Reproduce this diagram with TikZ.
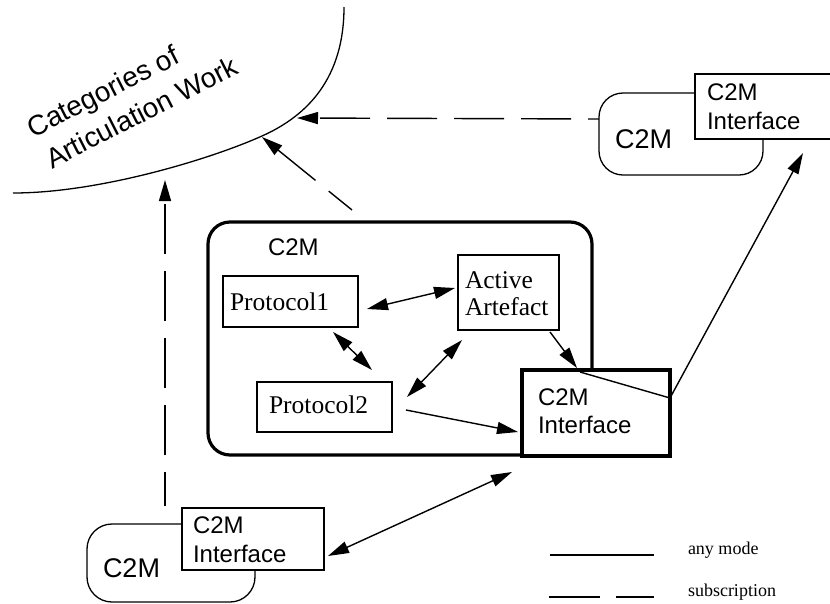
\documentclass[tikz,border=0pt]{standalone}
\usepackage{fontspec}
\setmainfont{Liberation Serif}
\newfontfamily\hv{Liberation Sans}
\usetikzlibrary{arrows.meta,calc}

\begin{document}
\begin{tikzpicture}[x=1pt,y=-1pt,
  every node/.style={inner sep=0pt, outer sep=0pt},
  thinbox/.style={draw, line width=1.3pt, fill=white, anchor=north west},
  thickbox/.style={draw, line width=3.2pt, fill=white, anchor=north west},
  module/.style={draw, line width=1.3pt, rounded corners=#1, anchor=north west},
  lbl/.style={anchor=base west, font=\hv\fontsize{24}{28}\selectfont},
  biglbl/.style={anchor=base west, font=\hv\fontsize{27}{32}\selectfont},
  catlbl/.style={anchor=base west, rotate=27, font=\hv\fontsize{28}{32}\selectfont},
  serif/.style={anchor=base west, font=\fontsize{25.5}{27}\selectfont},
  legendtxt/.style={anchor=base west, font=\fontsize{18}{20}\selectfont},
  headtip/.tip={Triangle[length=21pt,width=12pt]},
  conn/.style={line width=1.4pt},
  arr/.style={conn,-headtip},
  dbl/.style={conn,headtip-headtip},
  sub/.style={conn,-headtip,dash pattern=on 50pt off 17pt,dash phase=#1},
]
\useasboundingbox (0,0) rectangle (830,603);

% the categories of articulation work
\draw[line width=1.3pt] (344,7) .. controls (344,85) and (300,119) .. (262,136)
      .. controls (212,158.5) and (100,193) .. (13,193);
\coordinate (catV) at (165,180);
\coordinate (catD) at (262,137);
\coordinate (catH) at (297,118);
\node[catlbl] (cat1) at (33,138) {Categories of};
\node[catlbl] (cat2) at (52,169) {Articulation Work};

% central C2M with its components
\node[module=22pt, line width=3.2pt, minimum width=384pt, minimum height=233pt] (main) at (208,222) {};
\node[thickbox, minimum width=148pt, minimum height=86pt] (int) at (522,370) {};
\node[thinbox, minimum width=135pt, minimum height=51pt] (p1) at (223,276) {};
\node[thinbox, minimum width=101pt, minimum height=75pt] (aa) at (458,255) {};
\node[thinbox, minimum width=135pt, minimum height=50pt] (p2) at (257,382) {};
\node[lbl] (mainlbl) at (268,255) {C2M};
\node[lbl] (intlbl1) at (538,405) {C2M};
\node[lbl] (intlbl2) at (538,433) {Interface};
\node[serif] (p1lbl) at (230,310) {Protocol1};
\node[serif] (aalbl1) at (465,288) {Active};
\node[serif] (aalbl2) at (465,315) {Artefact};
\node[serif] (p2lbl) at (269,413) {Protocol2};

% remote C2M, top right
\node[module=24pt, minimum width=164pt, minimum height=82pt] (trmod) at (599,93) {};
\node[thinbox, minimum width=160pt, minimum height=65pt] (trint) at (695,74) {};
\node[lbl] (trint1) at (707,100) {C2M};
\node[lbl] (trint2) at (707,129) {Interface};
\node[biglbl] (trlbl) at (615,148) {C2M};

% remote C2M, bottom left
\node[module=25pt, minimum width=168pt, minimum height=78pt] (blmod) at (87,524) {};
\node[thinbox, minimum width=142pt, minimum height=62pt] (blint) at (182,508) {};
\node[lbl] (blint1) at (193,533) {C2M};
\node[lbl] (blint2) at (193,562) {Interface};
\node[biglbl] (bllbl) at (103,577) {C2M};

% connectors inside the C2M
\draw[dbl] ($(p1.east)+(9,7.5)$) -- ($(aa.west)+(-3,-4.5)$);
\draw[dbl] ($(p1.south east)+(-25,5)$) -- ($(p2.north east)+(-20,-12)$);
\draw[dbl] ($(p2.east)+(15,-10)$) -- ($(aa.south west)+(4,10)$);
\draw[arr] ($(p2.east)+(14,3)$) -- ($(int.west)+(-4,19)$);
\draw[arr] ($(aa.south east)+(-9,2)$) -- ($(int.north west)+(55,-2)$);

% connectors between C2Ms
\draw[arr] ($(int.north west)+(58,2)$) -- ($(int.east)+(0,-15)$) -- ($(trint.south west)+(108,14)$);
\draw[dbl] ($(blint.east)+(4,17)$) -- ($(int.south west)+(-10,16)$);

% subscriptions
\draw[sub=16pt] ($(blmod.north west)+(78,-18)$) -- (catV);
\draw[sub=20pt] ($(main.north)+(-48,-12)$) -- (catD);
\draw[sub=39pt] ($(trmod.west)+(0,-15)$) -- (catH);

% legend
\node[legendtxt] (anymode) at (688,554) {any mode};
\node[legendtxt] (subs) at (688,596) {subscription};
\draw[line width=1.7pt] ($(anymode.base west)+(-138,1)$) -- ++(104,0);
\draw[line width=2.2pt, dash pattern=on 51pt off 16pt] ($(subs.base west)+(-139,1)$) -- ++(105,0);
\end{tikzpicture}
\end{document}
